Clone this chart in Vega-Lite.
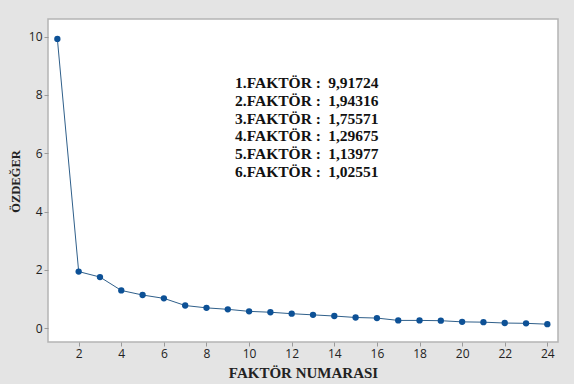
{
  "$schema": "https://vega.github.io/schema/vega-lite/v6.json",
  "width": 510,
  "height": 323,
  "autosize": {"type": "none"},
  "padding": {"left": 48, "top": 19, "right": 16, "bottom": 42},
  "background": "#e4e4e4",
  "config": {
    "locale": {"number": {"decimal": ",", "thousands": ".", "grouping": [3], "currency": ["", ""]}},
    "view": {"fill": "white", "stroke": "#b4b4b4", "strokeWidth": 1.5},
    "axis": {"grid": false, "domain": false, "tickColor": "#9a9a9a", "tickSize": 4, "labelColor": "#222222", "labelFont": "Open Sans", "labelFontSize": 12, "titleFont": "Liberation Serif", "titleFontWeight": "bold", "titleColor": "#222222"}
  },
  "data": {"values": [
    {"factor": 1, "eigen": 9.91724},
    {"factor": 2, "eigen": 1.94316},
    {"factor": 3, "eigen": 1.75571},
    {"factor": 4, "eigen": 1.29675},
    {"factor": 5, "eigen": 1.13977},
    {"factor": 6, "eigen": 1.02551},
    {"factor": 7, "eigen": 0.78},
    {"factor": 8, "eigen": 0.70},
    {"factor": 9, "eigen": 0.65},
    {"factor": 10, "eigen": 0.58},
    {"factor": 11, "eigen": 0.55},
    {"factor": 12, "eigen": 0.50},
    {"factor": 13, "eigen": 0.46},
    {"factor": 14, "eigen": 0.42},
    {"factor": 15, "eigen": 0.37},
    {"factor": 16, "eigen": 0.35},
    {"factor": 17, "eigen": 0.27},
    {"factor": 18, "eigen": 0.27},
    {"factor": 19, "eigen": 0.26},
    {"factor": 20, "eigen": 0.22},
    {"factor": 21, "eigen": 0.21},
    {"factor": 22, "eigen": 0.18},
    {"factor": 23, "eigen": 0.17},
    {"factor": 24, "eigen": 0.14}
  ]},
  "layer": [
    {
      "layer": [
        {"mark": {"type": "line", "color": "#2f5f8a", "strokeWidth": 1}},
        {"mark": {"type": "point", "filled": true, "color": "#0d5196", "opacity": 1, "size": 40}}
      ],
      "encoding": {
        "x": {"field": "factor", "type": "quantitative", "scale": {"domain": [0.56, 24.5], "nice": false, "zero": false},
          "axis": {"values": [2,4,6,8,10,12,14,16,18,20,22,24], "title": "FAKTÖR NUMARASI", "titleFontSize": 15, "labelPadding": 2, "titleX": 255, "titleY": 30, "titleBaseline": "middle"}},
        "y": {"field": "eigen", "type": "quantitative", "scale": {"domain": [-0.47, 10.6], "nice": false, "zero": false},
          "axis": {"values": [0,2,4,6,8,10], "title": "ÖZDEĞER", "titleFontSize": 12.5, "labelPadding": 2, "titleX": -33, "titleY": 162, "titleBaseline": "middle"}}
      }
    },
    {
      "transform": [
        {"filter": "datum.factor <= 6"},
        {"calculate": "datum.factor + '.FAKTÖR :'", "as": "label"}
      ],
      "layer": [
        {
          "mark": {"type": "text", "align": "left", "baseline": "middle", "font": "Liberation Serif", "fontSize": 15.5, "fontWeight": "bold", "color": "#111111"},
          "encoding": {"x": {"datum": 9.34, "type": "quantitative"}, "text": {"field": "label"}}
        },
        {
          "mark": {"type": "text", "align": "left", "baseline": "middle", "font": "Liberation Serif", "fontSize": 15.5, "fontWeight": "bold", "color": "#111111"},
          "encoding": {"x": {"datum": 13.71, "type": "quantitative"}, "text": {"field": "eigen", "format": ".5f"}}
        }
      ],
      "encoding": {
        "y": {"field": "factor", "type": "quantitative", "scale": {"domain": [-2.6, 15.55], "reverse": true, "nice": false, "zero": false}, "axis": null}
      }
    }
  ],
  "resolve": {"scale": {"y": "independent"}}
}
